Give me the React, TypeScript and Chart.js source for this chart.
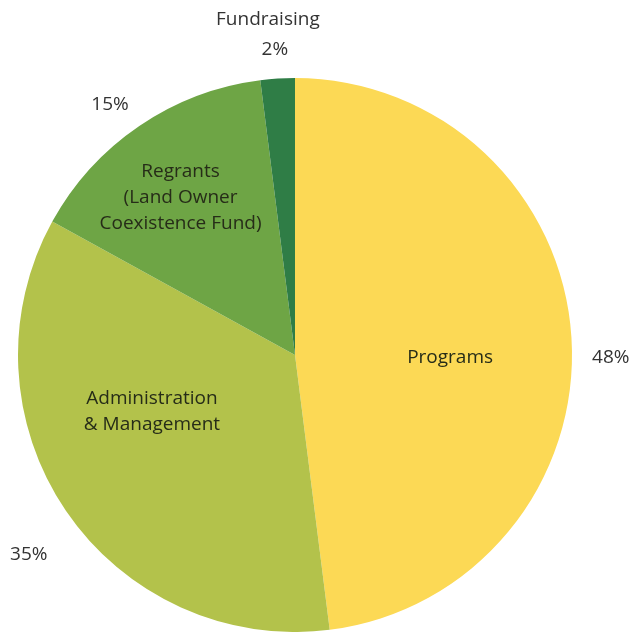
import React, { useEffect, useRef } from "react";
import { Chart, registerables } from "chart.js";

Chart.register(...registerables);

const categories = ["Programs", "Administration & Management", "Regrants (Land Owner Coexistence Fund)", "Fundraising"];
const values = [48, 35, 15, 2];
const percentLabels = ["48%", "35%", "15%", "2%"];
const innerLines = [["Programs"], ["Administration", "& Management"], ["Regrants", "(Land Owner", "Coexistence Fund)"], []];
const colors = ["#FCD955", "#B3C24B", "#6EA545", "#2F7D46"];

// label placement: angle nudge (deg) and radius factor
const innerPlace = [
  { da: 4.7, rf: 0.56 },
  { da: 12.7, rf: 0.555 },
  { da: -1.8, rf: 0.703 },
  { da: 0, rf: 0 },
];
const outerPlace = [
  { da: 4, rf: 1.14 },
  { da: -2.6, rf: 1.2 },
  { da: -2.2, rf: 1.125 },
  { da: -0.3, rf: 1.12 },
];

const FONT = '"Open Sans", sans-serif';

const labelPlugin = {
  id: "sliceLabels",
  afterDatasetsDraw(chart: any) {
    const ctx = chart.ctx;
    const meta = chart.getDatasetMeta(0);
    ctx.save();
    ctx.textAlign = "center";
    ctx.textBaseline = "middle";
    meta.data.forEach((arc: any, i: number) => {
      const { x, y, startAngle, endAngle, outerRadius } = arc.getProps(["x", "y", "startAngle", "endAngle", "outerRadius"], true);
      const mid = (startAngle + endAngle) / 2;
      // inner
      const lines = innerLines[i];
      if (lines.length) {
        const a = mid + (innerPlace[i].da * Math.PI) / 180;
        const px = x + Math.cos(a) * outerRadius * innerPlace[i].rf;
        const py = y + Math.sin(a) * outerRadius * innerPlace[i].rf;
        ctx.font = `19px ${FONT}`;
        ctx.fillStyle = "#262c18";
        const lh = 26;
        lines.forEach((ln, k) => {
          ctx.fillText(ln, px, py + (k - (lines.length - 1) / 2) * lh);
        });
      }
      // outer
      const a2 = mid + (outerPlace[i].da * Math.PI) / 180;
      const ox = x + Math.cos(a2) * outerRadius * outerPlace[i].rf;
      const oy = y + Math.sin(a2) * outerRadius * outerPlace[i].rf;
      ctx.font = `19px ${FONT}`;
      ctx.fillStyle = "#333333";
      if (i === 3) {
        ctx.fillText("Fundraising", ox - 6, oy - 26);
        ctx.fillText(percentLabels[i], ox + 1, oy + 4);
      } else {
        ctx.fillText(percentLabels[i], ox, oy);
      }
    });
    ctx.restore();
  },
};

export default function App() {
  const ref = useRef<HTMLCanvasElement>(null);
  useEffect(() => {
    if (!ref.current) return;
    const chart = new Chart(ref.current, {
      type: "pie",
      data: {
        labels: categories,
        datasets: [
          {
            data: values,
            backgroundColor: colors,
            borderWidth: 0,
          },
        ],
      },
      options: {
        responsive: false,
        animation: false,
        layout: { padding: { left: 18, right: 71, top: 78, bottom: 0 } },
        plugins: {
          legend: { display: false },
          tooltip: { enabled: false },
        },
      },
      plugins: [labelPlugin],
    });
    return () => chart.destroy();
  }, []);
  return (
    <div style={{ position: "fixed", left: 0, top: 0, width: 643, height: 632, background: "#fff" }}>
      <canvas ref={ref} width={643} height={632} />
    </div>
  );
}
